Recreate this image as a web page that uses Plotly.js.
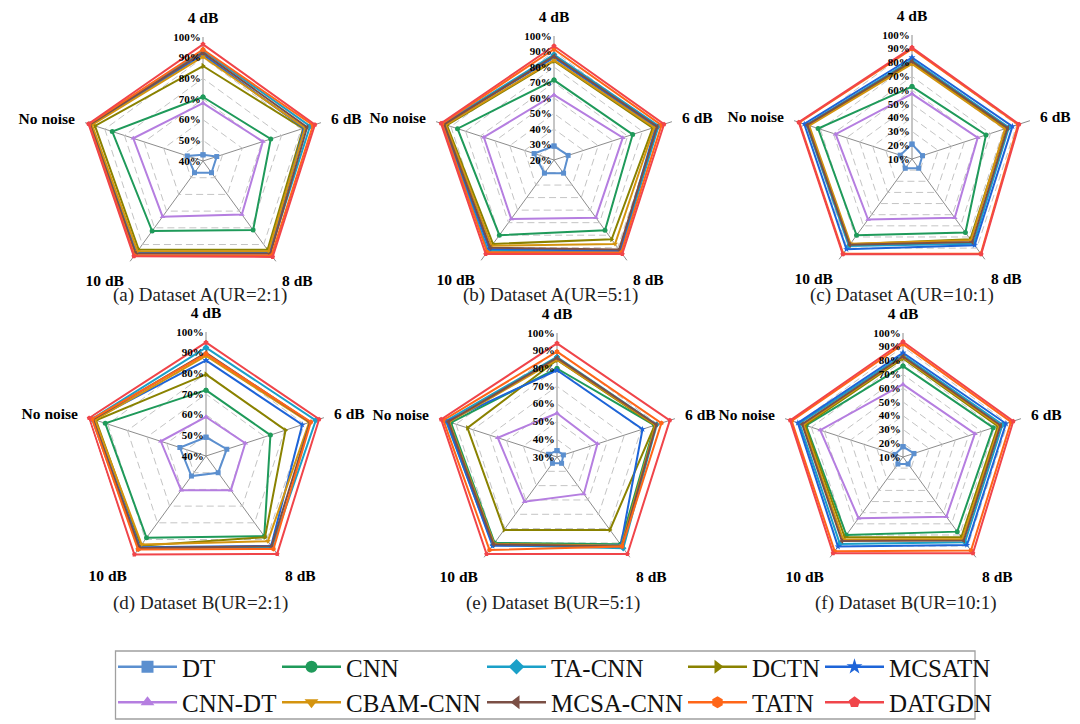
<!DOCTYPE html>
<html>
<head>
<meta charset="utf-8">
<script src="https://cdn.plot.ly/plotly-3.0.1.min.js"></script>
<style>html,body{margin:0;padding:0;background:#fff;overflow:hidden;}#chart{width:1080px;height:724px;}</style>
</head>
<body>
<div id="chart"></div>
<script>
// ---- data ----
const CATS = ['4 dB', '6 dB', '8 dB', '10 dB', 'No noise'];
const CAPTIONS = ['(a) Dataset A(UR=2:1)', '(b) Dataset A(UR=5:1)', '(c) Dataset A(UR=10:1)',
                  '(d) Dataset B(UR=2:1)', '(e) Dataset B(UR=5:1)', '(f) Dataset B(UR=10:1)'];
const RADIAL_MIN = [40, 20, 10, 40, 30, 10];
const MODELS = ['DT', 'CNN', 'TA-CNN', 'DCTN', 'MCSATN', 'CNN-DT', 'CBAM-CNN', 'MCSA-CNN', 'TATN', 'DATGDN'];

// each row: one chart (a)..(f); values in CATS order
const DT = [[43, 47, 47, 47, 48], [29, 29.6, 30.5, 30.5, 33.5], [20.8, 18, 18.3, 18.3, 19],
            [49.1, 50.6, 50, 52, 53.3], [33.6, 33.8, 34.4, 34.4, 35], [17.5, 18.4, 16.3, 16.3, 16.1]];
const CNN = [[71, 74.5, 81.3, 81.9, 86.2], [71.6, 73.4, 76, 80, 85.5], [62.6, 66.5, 76, 78.5, 81.7],
             [71.9, 72.8, 88, 89, 91.3], [80, 88, 91, 90, 93], [76, 78.9, 77, 80, 84]];
const TA_CNN = [[93.5, 94.5, 95, 95, 97.5], [88, 91, 93, 92.5, 95.5], [82, 84, 86, 88, 90.5],
                [92.5, 95.9, 94.5, 95.5, 98], [86.5, 89.2, 93.7, 91.5, 96], [84, 86, 86.5, 88, 89]];
const DCTN = [[86, 91, 93.2, 93, 95], [84, 87, 83.3, 87, 92.7], [80, 81.7, 82, 86.5, 89.2],
              [79.5, 80.5, 88.6, 93.7, 96], [84.8, 88, 80.9, 80.9, 83.2], [81.6, 82.4, 82, 82, 84.8]];
const MCSATN = [[91.5, 91.5, 95, 95, 97], [86.1, 89, 92.5, 91, 94.9], [83.7, 86.7, 87.4, 91, 92.3],
                [86.3, 89, 93.7, 94.6, 97.3], [79, 80.8, 91.4, 92, 95.5], [85.7, 88.6, 89, 90.4, 90.3]];
const CNN_DT = [[68, 70.5, 72, 73.3, 75.5], [62, 66.7, 66, 67, 67.6], [57.3, 60.2, 62.8, 64.3, 68.3],
                [58.9, 60, 60.5, 60.5, 63], [54.7, 54, 55.8, 61.2, 65.2], [62.7, 64.9, 63.6, 65, 73.2]];
const CBAM_CNN = [[90.5, 92, 94, 94, 96.5], [84.5, 88, 87, 88.5, 93.5], [79, 81, 83, 86, 88.5],
                  [88.5, 92.5, 91, 93, 96.5], [85, 88.5, 92, 90.5, 94], [82.5, 83.5, 83.5, 84, 86]];
const MCSA_CNN = [[92.5, 93, 95.5, 95.5, 97.5], [87, 90, 91.5, 90, 94.5], [81, 83, 84.5, 87, 90],
                  [90, 93, 94, 95, 97.5], [86, 89, 92.5, 91, 94.5], [83, 84.5, 85, 85.5, 87]];
const TATN = [[94, 96, 96.5, 96.5, 98], [91.5, 93, 93.8, 93.5, 96], [90, 91, 95, 95, 96],
              [89.5, 93.4, 95.6, 96, 98], [89.5, 92, 92.5, 94.9, 97.5], [92, 92.5, 94, 94.5, 95]];
const DATGDN = [[96.5, 97, 97.4, 97, 98.3], [93.6, 94.7, 95, 95, 96.7], [90.9, 91.8, 95.5, 95.5, 96.5],
                [95, 97.6, 98.6, 99, 99.5], [94.2, 97, 97.7, 97.7, 98.8], [93.7, 94.2, 96.4, 96.4, 96.2]];

const SERIES = [DT, CNN, TA_CNN, DCTN, MCSATN, CNN_DT, CBAM_CNN, MCSA_CNN, TATN, DATGDN];

// ---- styles ----
const COLORS = ['#5b8fcf', '#1f9a5a', '#1aa0c8', '#8a8200', '#1d64d8',
                '#b57ee0', '#d4940f', '#7b4f45', '#ff6618', '#f0454a'];
const SYMBOLS = ['square', 'circle', 'diamond', 'triangle-right', 'star',
                 'triangle-up', 'triangle-down', 'triangle-left', 'hexagon', 'pentagon'];
const CENTERS = [[203, 161], [554, 160], [912, 159], [206, 456], [557, 457], [903, 457]];
const CAP_POS = [[200, 295], [550, 295], [902, 295], [200, 603], [553, 603], [906, 603]];
const RAD = 124;
const W = 1080, H = 724;
const SERIF = '"Liberation Serif"';

const traces = [];
const layout = {
  width: W, height: H,
  margin: {l: 0, r: 0, t: 0, b: 0, autoexpand: false},
  paper_bgcolor: '#fff',
  showlegend: true,
  font: {family: SERIF},
  annotations: [],
  shapes: [{type: 'rect', xref: 'paper', yref: 'paper',
            x0: 115.5 / W, x1: 975 / W, y0: 1 - 719 / H, y1: 1 - 651 / H,
            line: {color: '#a0a0a0', width: 1.3}, fillcolor: 'rgba(0,0,0,0)'}]
};

for (let k = 0; k < 6; k++) {
  const pid = k === 0 ? 'polar' : 'polar' + (k + 1);
  const [cx, cy] = CENTERS[k];
  layout[pid] = {
    domain: {x: [(cx - RAD) / W, (cx + RAD) / W], y: [(H - cy - RAD) / H, (H - cy + RAD) / H]},
    bgcolor: '#fff',
    gridshape: 'linear',
    angularaxis: {
      type: 'category', categoryorder: 'array', categoryarray: CATS,
      rotation: 90, direction: 'clockwise',
      showgrid: true, gridcolor: '#8c8c8c', gridwidth: 1,
      showline: false, ticks: 'outside', ticklen: 7, tickcolor: 'rgba(0,0,0,0)',
      tickfont: {family: SERIF, size: 15.5, color: '#000', weight: 'bold'}
    },
    radialaxis: {
      range: [RADIAL_MIN[k], 100.05], dtick: 10, tick0: 0, ticksuffix: '%',
      angle: 90, tickangle: 90, side: 'counterclockwise',
      showline: false, ticks: '',
      showgrid: true, gridcolor: '#c4c4c4', griddash: '7px,4px', gridwidth: 1,
      tickfont: {family: SERIF, size: 11, color: '#000', weight: 'bold'}
    }
  };
  layout.annotations.push({
    xref: 'paper', yref: 'paper', x: CAP_POS[k][0] / W, y: 1 - CAP_POS[k][1] / H,
    xanchor: 'center', yanchor: 'middle', showarrow: false,
    text: CAPTIONS[k], font: {family: SERIF, size: 19, color: '#222'}
  });
  for (let i = 0; i < MODELS.length; i++) {
    const vals = SERIES[i][k];
    traces.push({
      type: 'scatterpolar', subplot: pid,
      r: vals.concat([vals[0]]), theta: CATS.concat([CATS[0]]),
      mode: 'lines+markers', name: MODELS[i],
      legendgroup: MODELS[i], showlegend: false,
      line: {color: COLORS[i], width: 2},
      marker: {symbol: SYMBOLS[i], size: 5, color: COLORS[i], line: {width: 0}},
      hoverinfo: 'name+r+theta'
    });
  }
}

// legend-only entries (bigger key symbols, as in the reference); their single point
// lies below the radial range so nothing is drawn on the plot itself
for (let i = 0; i < MODELS.length; i++) {
  const col = i % 5;
  traces.push({
    type: 'scatterpolar', subplot: 'polar', r: [0], theta: [CATS[0]],
    mode: 'lines+markers', name: MODELS[i], legendgroup: MODELS[i], showlegend: true,
    legend: col === 0 ? 'legend' : 'legend' + (col + 1),
    line: {color: COLORS[i], width: 2.5},
    marker: {symbol: SYMBOLS[i], size: 12, color: COLORS[i], line: {width: 0}},
    hoverinfo: 'skip'
  });
}

// five legend columns
const LEG_X = [113, 277, 482, 683, 820];
for (let c = 0; c < 5; c++) {
  const lid = c === 0 ? 'legend' : 'legend' + (c + 1);
  layout[lid] = {
    x: LEG_X[c] / W, y: 1 - 644 / H, xanchor: 'left', yanchor: 'top',
    orientation: 'v', itemwidth: 59, itemsizing: 'trace', tracegroupgap: 0,
    bgcolor: 'rgba(0,0,0,0)', borderwidth: 0,
    font: {family: SERIF, size: 25, color: '#111'}
  };
}

Plotly.newPlot('chart', traces, layout, {displayModeBar: false});
</script>
</body>
</html>
